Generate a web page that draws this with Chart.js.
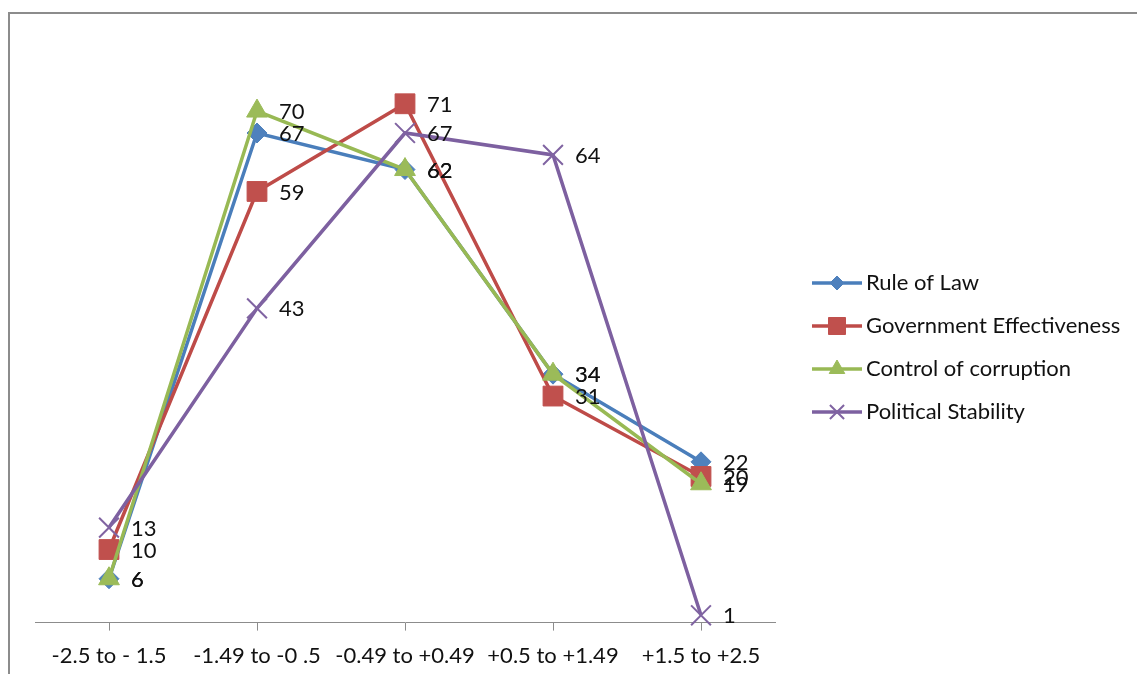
<!DOCTYPE html>
<html>
<head>
<meta charset="utf-8">
<title>Governance indicators</title>
<script src="https://cdn.jsdelivr.net/npm/chart.js@4/dist/chart.umd.min.js"></script>
<style>
  body { margin: 0; background: #fff; overflow: hidden; }
  .frame {
    position: absolute;
    left: 8px;
    top: 12px;
    width: 1300px;
    height: 800px;
    border-left: 2px solid #8c8c8c;
    border-top: 2px solid #8c8c8c;
  }
  #govChart { position: absolute; left: 0; top: 0; }
</style>
</head>
<body>
<div class="frame"></div>
<canvas id="govChart" width="1137" height="674"></canvas>

<script>
'use strict';

const categories = ['-2.5 to - 1.5', '-1.49 to -0 .5', '-0.49 to +0.49', '+0.5 to +1.49', '+1.5 to +2.5'];

const ruleOfLaw = [6, 67, 62, 34, 22];
const govEffectiveness = [10, 59, 71, 31, 20];
const corruptionControl = [6, 70, 62, 34, 19];
const politicalStability = [13, 43, 67, 64, 1];

const seriesNames = ['Rule of Law', 'Government Effectiveness', 'Control of corruption', 'Political Stability'];

const fontFamily = 'Lato, "Open Sans", sans-serif';
const fontSize = 22;

// line + marker look for each series
const styles = [
  { line: '#4a7ebb', fill: '#4f81bd', shape: 'rectRot', radius: 10, legendRadius: 7, bw: 1 },
  { line: '#be4b48', fill: '#c0504d', shape: 'rect', radius: 14, legendRadius: 12, bw: 1 },
  { line: '#98b954', fill: '#9bbb59', shape: 'triangle', radius: 12, legendRadius: 9, bw: 1 },
  { line: '#7d60a0', fill: '#8064a2', shape: 'crossRot', radius: 14, legendRadius: 10, bw: 2 }
];

const values = [ruleOfLaw, govEffectiveness, corruptionControl, politicalStability];

const datasets = values.map(function (data, i) {
  const s = styles[i];
  return {
    label: seriesNames[i],
    data: data,
    borderColor: s.line,
    backgroundColor: s.fill,
    borderWidth: 3.5,
    tension: 0,
    pointStyle: s.shape,
    pointRadius: s.radius,
    pointHoverRadius: s.radius,
    pointBackgroundColor: s.fill,
    pointBorderColor: s.fill,
    pointBorderWidth: s.bw,
    clip: false,
    order: values.length - 1 - i   // later series drawn on top, like the original
  };
});

// value printed to the right of every point
const valueLabels = {
  id: 'valueLabels',
  afterDatasetsDraw(chart) {
    const ctx = chart.ctx;
    ctx.save();
    ctx.font = fontSize + 'px ' + fontFamily;
    ctx.fillStyle = '#111';
    ctx.textAlign = 'left';
    ctx.textBaseline = 'middle';
    chart.data.datasets.forEach(function (ds, i) {
      const meta = chart.getDatasetMeta(i);
      meta.data.forEach(function (pt, j) {
        ctx.fillText(String(ds.data[j]), pt.x + 22, pt.y + 1);
      });
    });
    ctx.restore();
  }
};

// excel style legend: short line with the marker on it
const lineLegend = {
  id: 'lineLegend',
  afterDraw(chart) {
    const ctx = chart.ctx;
    const left = chart.chartArea.right + 37;
    const top = 283;
    const gap = 43;
    ctx.save();
    chart.data.datasets.forEach(function (ds, i) {
      const s = styles[i];
      const y = top + i * gap;
      ctx.strokeStyle = s.line;
      ctx.lineWidth = 3.5;
      ctx.beginPath();
      ctx.moveTo(left, y);
      ctx.lineTo(left + 50, y);
      ctx.stroke();

      ctx.fillStyle = s.fill;
      ctx.strokeStyle = s.fill;
      ctx.lineWidth = s.bw;
      Chart.helpers.drawPoint(ctx, { pointStyle: s.shape, radius: s.legendRadius, rotation: 0, borderWidth: s.bw }, left + 25, y);

      ctx.fillStyle = '#111';
      ctx.font = fontSize + 'px ' + fontFamily;
      ctx.textAlign = 'left';
      ctx.textBaseline = 'middle';
      ctx.fillText(ds.label, left + 54, y);
    });
    ctx.restore();
  }
};

const ctx = document.getElementById('govChart').getContext('2d');

const govChart = new Chart(ctx, {
  type: 'line',
  data: {
    labels: categories,
    datasets: datasets
  },
  options: {
    responsive: false,
    animation: false,
    layout: {
      padding: { left: 35, right: 362, top: 38, bottom: -7 }
    },
    plugins: {
      legend: { display: false },
      tooltip: { enabled: false }
    },
    scales: {
      x: {
        offset: true,
        grid: {
          drawOnChartArea: false,
          drawTicks: true,
          tickLength: 8,
          color: '#8c8c8c'
        },
        border: { display: true, color: '#8c8c8c', width: 1 },
        ticks: {
          padding: 12,
          color: '#111',
          font: { family: fontFamily, size: fontSize },
          maxRotation: 0,
          autoSkip: false
        }
      },
      y: {
        display: false,
        min: 0,
        max: 80
      }
    }
  },
  plugins: [valueLabels, lineLegend]
});
</script>
</body>
</html>
